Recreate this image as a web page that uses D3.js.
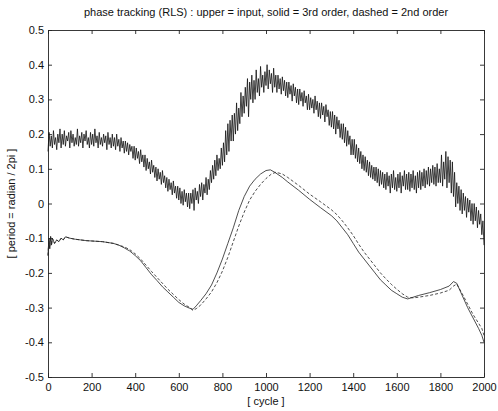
<!DOCTYPE html>
<html>
<head>
<meta charset="utf-8">
<script src="https://cdn.jsdelivr.net/npm/d3@7"></script>
<style>
  body { margin: 0; background: #fff; }
  text { font-family: "Liberation Sans", Arial, sans-serif; fill: #111; }
</style>
</head>
<body>
<div id="chart"></div>
<script>
// tick labels
var xTicks = [0, 200, 400, 600, 800, 1000, 1200, 1400, 1600, 1800, 2000];
var yTicks = [-0.5, -0.4, -0.3, -0.2, -0.1, 0, 0.1, 0.2, 0.3, 0.4, 0.5];

// upper noisy input, one value every 5 cycles (0..2000)
var inputStep = 5;
var inputValues = [
  0.150, 0.205, 0.165, 0.195, 0.160, 0.210, 0.170, 0.190, 0.155, 0.200,
  0.175, 0.215, 0.160, 0.200, 0.170, 0.210, 0.165, 0.195, 0.180, 0.205,
  0.160, 0.210, 0.175, 0.200, 0.165, 0.190, 0.170, 0.215, 0.165, 0.195,
  0.175, 0.205, 0.160, 0.200, 0.180, 0.210, 0.170, 0.190, 0.160, 0.205,
  0.170, 0.200, 0.165, 0.215, 0.175, 0.195, 0.160, 0.205, 0.170, 0.190,
  0.165, 0.200, 0.175, 0.195, 0.155, 0.205, 0.170, 0.190, 0.160, 0.200,
  0.165, 0.190, 0.155, 0.200, 0.165, 0.185, 0.150, 0.190, 0.160, 0.180,
  0.145, 0.180, 0.150, 0.175, 0.140, 0.170, 0.150, 0.165, 0.130, 0.165,
  0.125, 0.160, 0.130, 0.150, 0.115, 0.155, 0.120, 0.140, 0.105, 0.140,
  0.095, 0.130, 0.100, 0.120, 0.085, 0.125, 0.090, 0.110, 0.075, 0.105,
  0.065, 0.100, 0.070, 0.090, 0.055, 0.095, 0.060, 0.080, 0.045, 0.075,
  0.035, 0.070, 0.040, 0.060, 0.025, 0.065, 0.030, 0.050, 0.015, 0.050,
  0.010, 0.045, 0.000, 0.035, -0.005, 0.040, 0.005, 0.030, -0.010, 0.030,
  -0.015, 0.030, 0.000, 0.040, -0.020, 0.045, 0.010, 0.035, 0.000, 0.055,
  0.020, 0.060, 0.010, 0.055, 0.030, 0.075, 0.025, 0.070, 0.040, 0.095,
  0.060, 0.110, 0.070, 0.125, 0.080, 0.140, 0.095, 0.130, 0.100, 0.160,
  0.110, 0.175, 0.120, 0.210, 0.140, 0.230, 0.150, 0.240, 0.180, 0.255,
  0.180, 0.260, 0.200, 0.290, 0.210, 0.275, 0.230, 0.320, 0.250, 0.310,
  0.260, 0.335, 0.280, 0.360, 0.250, 0.350, 0.300, 0.370, 0.290, 0.355,
  0.300, 0.385, 0.320, 0.360, 0.310, 0.395, 0.335, 0.370, 0.320, 0.380,
  0.340, 0.400, 0.330, 0.385, 0.345, 0.375, 0.320, 0.390, 0.335, 0.370,
  0.320, 0.370, 0.330, 0.360, 0.315, 0.365, 0.325, 0.355, 0.310, 0.350,
  0.305, 0.350, 0.315, 0.340, 0.295, 0.345, 0.310, 0.335, 0.290, 0.330,
  0.285, 0.330, 0.295, 0.320, 0.280, 0.325, 0.290, 0.310, 0.270, 0.315,
  0.270, 0.305, 0.275, 0.300, 0.260, 0.310, 0.270, 0.295, 0.250, 0.290,
  0.245, 0.290, 0.255, 0.280, 0.235, 0.285, 0.250, 0.270, 0.225, 0.265,
  0.220, 0.265, 0.215, 0.255, 0.200, 0.250, 0.215, 0.240, 0.190, 0.230,
  0.185, 0.230, 0.175, 0.220, 0.165, 0.210, 0.170, 0.195, 0.140, 0.185,
  0.140, 0.185, 0.130, 0.170, 0.120, 0.160, 0.115, 0.150, 0.100, 0.140,
  0.095, 0.135, 0.090, 0.125, 0.080, 0.120, 0.075, 0.110, 0.070, 0.105,
  0.065, 0.105, 0.060, 0.100, 0.050, 0.095, 0.055, 0.090, 0.045, 0.085,
  0.040, 0.090, 0.050, 0.080, 0.030, 0.085, 0.045, 0.095, 0.040, 0.075,
  0.035, 0.085, 0.045, 0.090, 0.030, 0.080, 0.050, 0.095, 0.040, 0.085,
  0.040, 0.090, 0.035, 0.085, 0.045, 0.095, 0.040, 0.080, 0.030, 0.090,
  0.045, 0.095, 0.040, 0.090, 0.050, 0.100, 0.045, 0.095, 0.055, 0.105,
  0.050, 0.100, 0.060, 0.110, 0.055, 0.105, 0.050, 0.115, 0.060, 0.100,
  0.060, 0.140, 0.050, 0.120, 0.070, 0.150, 0.045, 0.135, 0.060, 0.125,
  0.030, 0.120, 0.020, 0.090, -0.010, 0.060, 0.000, 0.050, -0.020, 0.040,
  -0.030, 0.030, -0.020, 0.020, -0.040, 0.015, -0.025, 0.010, -0.050, 0.000,
  -0.060, 0.000, -0.050, -0.010, -0.070, -0.020, -0.060, -0.030, -0.090, -0.050,
  -0.120
];

// lower traces: solid = 3rd order, dashed = 2nd order
var solidCycles = [0, 4, 8, 12, 16, 20, 30, 40, 50, 60, 70, 80, 100, 125, 150, 175, 200, 250, 300, 325, 350, 375, 400, 425, 450, 475, 500, 525, 550, 575, 600, 625, 650, 665, 680, 700, 725, 750, 775, 800, 825, 850, 875, 900, 925, 950, 975, 1000, 1020, 1040, 1075, 1100, 1150, 1200, 1250, 1300, 1325, 1350, 1375, 1400, 1425, 1450, 1475, 1500, 1525, 1550, 1575, 1600, 1625, 1650, 1675, 1700, 1750, 1800, 1840, 1860, 1875, 1900, 1925, 1950, 1975, 1990, 2000];
var solidValues = [-0.15, -0.10, -0.13, -0.095, -0.12, -0.10, -0.115, -0.105, -0.11, -0.10, -0.105, -0.096, -0.10, -0.103, -0.105, -0.107, -0.108, -0.11, -0.115, -0.12, -0.128, -0.137, -0.15, -0.165, -0.185, -0.205, -0.222, -0.24, -0.255, -0.27, -0.285, -0.295, -0.302, -0.305, -0.295, -0.28, -0.26, -0.235, -0.20, -0.16, -0.115, -0.07, -0.02, 0.02, 0.05, 0.07, 0.085, 0.095, 0.097, 0.09, 0.075, 0.062, 0.038, 0.012, -0.012, -0.035, -0.05, -0.07, -0.09, -0.115, -0.14, -0.16, -0.18, -0.20, -0.22, -0.235, -0.25, -0.26, -0.27, -0.275, -0.27, -0.265, -0.257, -0.248, -0.238, -0.225, -0.23, -0.265, -0.30, -0.33, -0.36, -0.38, -0.40];

var dashedCycles = [0, 4, 8, 12, 16, 20, 30, 40, 50, 60, 70, 80, 100, 125, 150, 175, 200, 250, 300, 350, 375, 400, 425, 450, 475, 500, 525, 550, 575, 600, 625, 650, 665, 680, 700, 725, 750, 775, 800, 825, 850, 875, 900, 925, 950, 975, 1000, 1025, 1045, 1075, 1100, 1150, 1200, 1250, 1300, 1325, 1350, 1375, 1400, 1425, 1450, 1475, 1500, 1525, 1550, 1575, 1600, 1625, 1650, 1675, 1700, 1750, 1800, 1840, 1860, 1875, 1900, 1925, 1950, 1975, 1990, 2000];
var dashedValues = [-0.15, -0.10, -0.13, -0.095, -0.12, -0.10, -0.115, -0.105, -0.11, -0.10, -0.105, -0.096, -0.10, -0.103, -0.105, -0.107, -0.108, -0.11, -0.115, -0.125, -0.133, -0.145, -0.16, -0.178, -0.196, -0.213, -0.23, -0.247, -0.262, -0.277, -0.29, -0.30, -0.308, -0.303, -0.293, -0.275, -0.255, -0.228, -0.195, -0.155, -0.11, -0.065, -0.025, 0.01, 0.035, 0.055, 0.072, 0.085, 0.09, 0.085, 0.075, 0.052, 0.027, 0.005, -0.018, -0.032, -0.05, -0.07, -0.092, -0.117, -0.14, -0.16, -0.18, -0.20, -0.217, -0.233, -0.247, -0.26, -0.27, -0.272, -0.27, -0.265, -0.258, -0.25, -0.238, -0.232, -0.26, -0.29, -0.32, -0.345, -0.36, -0.38];

var width = 498, height = 411;
var margin = {top: 30, right: 14, bottom: 34, left: 48};
var plotW = width - margin.left - margin.right;
var plotH = height - margin.top - margin.bottom;

var svg = d3.select("#chart").append("svg")
  .attr("width", width)
  .attr("height", height);

var x = d3.scaleLinear().domain([0, 2000]).range([0, plotW]);
var y = d3.scaleLinear().domain([-0.5, 0.5]).range([plotH, 0]);

var g = svg.append("g")
  .attr("transform", "translate(" + margin.left + "," + margin.top + ")");

// box with inward ticks on all four sides (matlab style)
var tickLen = 4;
g.append("g").attr("transform", "translate(0," + plotH + ")")
  .call(d3.axisBottom(x).tickValues(xTicks).tickSizeInner(-tickLen).tickSizeOuter(0).tickPadding(6).tickFormat(d3.format("d")));
g.append("g")
  .call(d3.axisTop(x).tickValues(xTicks).tickSizeInner(-tickLen).tickSizeOuter(0).tickFormat(""));
g.append("g")
  .call(d3.axisLeft(y).tickValues(yTicks).tickSizeInner(-tickLen).tickSizeOuter(0).tickPadding(4)
    .tickFormat(function(d) { return Math.abs(d) < 1e-9 ? "0" : d3.format(".1f")(d).replace("−", "-"); }));
g.append("g").attr("transform", "translate(" + plotW + ",0)")
  .call(d3.axisRight(y).tickValues(yTicks).tickSizeInner(-tickLen).tickSizeOuter(0).tickFormat(""));

g.selectAll(".domain").attr("stroke", "#222").attr("stroke-width", 0.9);
g.selectAll(".tick line").attr("stroke", "#222").attr("stroke-width", 0.9);
g.selectAll(".tick text").style("font-size", "11px").attr("fill", "#111");

var line = d3.line()
  .x(function(d) { return x(d[0]); })
  .y(function(d) { return y(d[1]); });

var inputData = inputValues.map(function(v, i) { return [i * inputStep, v]; });
var solidData = solidCycles.map(function(c, i) { return [c, solidValues[i]]; });
var dashedData = dashedCycles.map(function(c, i) { return [c, dashedValues[i]]; });

g.append("path").datum(inputData)
  .attr("d", line)
  .attr("fill", "none")
  .attr("stroke", "#111")
  .attr("stroke-width", 0.8);

g.append("path").datum(solidData)
  .attr("d", line)
  .attr("fill", "none")
  .attr("stroke", "#222")
  .attr("stroke-width", 0.8);

g.append("path").datum(dashedData)
  .attr("d", line)
  .attr("fill", "none")
  .attr("stroke", "#222")
  .attr("stroke-width", 0.8)
  .attr("stroke-dasharray", "3,2");

// title and axis labels
svg.append("text")
  .attr("x", margin.left + plotW / 2)
  .attr("y", 16)
  .attr("text-anchor", "middle")
  .style("font-size", "11px")
  .text("phase tracking (RLS) : upper = input, solid = 3rd order, dashed = 2nd order");

svg.append("text")
  .attr("x", margin.left + plotW / 2)
  .attr("y", 405)
  .attr("text-anchor", "middle")
  .style("font-size", "11px")
  .text("[ cycle ]");

svg.append("text")
  .attr("transform", "translate(15," + (margin.top + plotH / 2) + ") rotate(-90)")
  .attr("text-anchor", "middle")
  .style("font-size", "11px")
  .text("[ period = radian / 2pi ]");
</script>
</body>
</html>
